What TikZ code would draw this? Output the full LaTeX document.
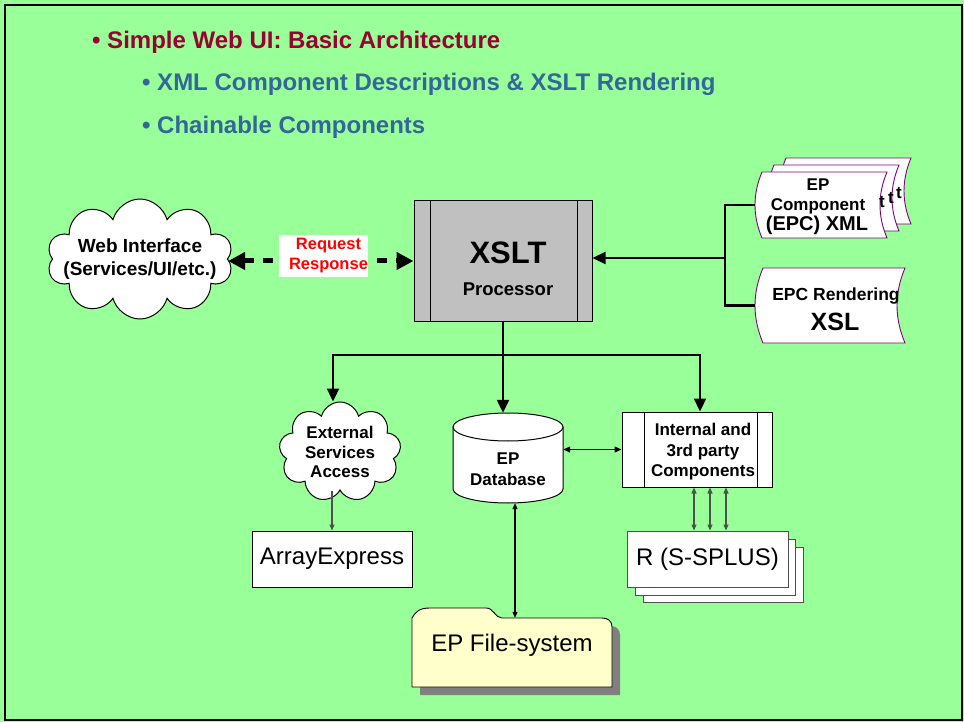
\documentclass[tikz,border=0pt]{standalone}
\usepackage{fontspec}
\setmainfont{Liberation Sans}
\usetikzlibrary{shapes.symbols,arrows.meta,calc}
\definecolor{bggreen}{RGB}{153,255,153}
\definecolor{titlered}{RGB}{153,0,51}
\definecolor{subblue}{RGB}{51,102,153}
\definecolor{procgray}{RGB}{192,192,192}
\definecolor{docpurple}{RGB}{128,0,128}
\definecolor{folderfill}{RGB}{255,255,204}
\definecolor{shadowgray}{RGB}{128,128,128}
\definecolor{thinline}{RGB}{80,80,80}
\newcommand\fsz[2]{\fontsize{#1pt}{#2pt}\selectfont}
% stored-data shape: left bulge x, top y, width, height, bulge c
\newcommand\storeddata[5]{%
  \filldraw[docline] ({#1+#5},#2) -- ({#1+#3},#2)
    .. controls ({#1+#3-4/3*#5},{#2+#4/3}) and ({#1+#3-4/3*#5},{#2+2*#4/3}) .. ({#1+#3},{#2+#4})
    -- ({#1+#5},{#2+#4})
    .. controls ({#1-#5/3},{#2+2*#4/3}) and ({#1-#5/3},{#2+#4/3}) .. cycle;}
\newcommand\folderpath[2]{%
  (#1+412,#2+687) -- (#1+412,#2+618)
  .. controls (#1+416,#2+611) and (#1+420,#2+608) .. (#1+430,#2+608)
  -- (#1+486,#2+608)
  .. controls (#1+494,#2+608) and (#1+495,#2+618) .. (#1+502,#2+618)
  -- (#1+602,#2+618)
  .. controls (#1+608,#2+618) and (#1+612,#2+621) .. (#1+612,#2+627)
  -- (#1+612,#2+687) -- cycle}
\tikzset{
  docline/.style={draw=docpurple, fill=white, line width=0.9pt},
  boxline/.style={draw=black, line width=1pt},
  mainarrow/.style={line width=2.3pt, -{Triangle[length=13pt,width=12pt]}},
  thinarrow/.style={draw=thinline, line width=1.1pt, -{Triangle[length=6pt,width=5pt]}},
  thinboth/.style={draw=thinline, line width=1.1pt, {Triangle[length=6pt,width=5pt]}-{Triangle[length=6pt,width=5pt]}},
  blackboth/.style={line width=1.3pt, {Triangle[length=7pt,width=6pt]}-{Triangle[length=7pt,width=6pt]}},
  ghost/.style={draw=none, fill=none, inner sep=0pt},
  cloudnode/.style={cloud, cloud ignores aspect, draw=black, fill=white, line width=1pt, inner sep=0pt}
}
\begin{document}
\begin{tikzpicture}[x=1pt,y=-1pt]
\useasboundingbox (0,0) rectangle (964,722);
\fill[bggreen] (0,0) rectangle (964,722);
\draw[line width=2pt] (5,5) rectangle (962,720);

% title
\node[anchor=base west, inner sep=0pt, text=titlered, font=\bfseries\fsz{24}{28}] (t1) at (92,48.5) {• Simple Web UI: Basic Architecture};
\node[anchor=base west, inner sep=0pt, text=subblue, font=\bfseries\fsz{24}{28}] (t2) at (142,90.5) {• XML Component Descriptions \& XSLT Rendering};
\node[anchor=base west, inner sep=0pt, text=subblue, font=\bfseries\fsz{24}{28}] (t3) at (142,133.5) {• Chainable Components};

% XSLT processor
\node[boxline, fill=procgray, minimum width=178pt, minimum height=120pt] (xslt) at (503,261) {};
\draw[line width=0.8pt] (430,201) -- (430,321) (577,201) -- (577,321);
\node[font=\bfseries\fsz{31}{34}] (xsltlabel) at (508,253) {XSLT};
\node[font=\bfseries\fsz{18.5}{22}] (proclabel) at (508,289) {Processor};

% Web interface cloud
\node[cloudnode, cloud puffs=10, minimum width=186pt, minimum height=120pt] (web) at (140,259) {};
\node[align=center, font=\bfseries\fsz{19}{23}] (webtxt) at (140,259) {Web Interface\\(Services/UI/etc.)};

% request/response
\draw[line width=5pt, dash pattern=on 10pt off 9pt, {Triangle[length=17pt,width=17pt]}-{Triangle[length=17pt,width=17pt]}] (web.east |- xslt.west) -- (xslt.west);
\node[fill=white, text=red, minimum width=83pt, minimum height=42pt, inner sep=0pt, align=center, font=\bfseries\fsz{16.5}{20}] (rr) at (323.5,256) {\hspace*{10pt}Request\\\hspace*{10pt}Response};

% documents
\storeddata{779}{158}{132}{66}{7}
\storeddata{767}{165}{132}{66}{7}
\node[font=\bfseries\fsz{17}{20}] (tb) at (899,193) {t};
\node[font=\bfseries\fsz{17}{20}] (tm) at (891,198) {t};
\storeddata{755}{172}{132}{66}{7}
\node[ghost, minimum width=132pt, minimum height=66pt] (xml) at (821,205) {};
\node[align=center, font=\bfseries\fsz{17}{20}] (xmltxt) at (818,196) {EP\\Component};
\node[font=\bfseries\fsz{20}{22}] (xmltxt2) at (817,225) {(EPC) XML};
\node[font=\bfseries\fsz{17}{20}] (tf) at (882,202) {t};

\storeddata{755}{268}{150}{75}{8}
\node[ghost, minimum width=150pt, minimum height=75pt] (xsl) at (830,305.5) {};
\node[font=\bfseries\fsz{17.5}{20}] (xsltxt) at (836,296) {EPC Rendering};
\node[font=\bfseries\fsz{25}{26}] (xsltxt2) at (835,322) {XSL};

\coordinate (bus) at (725,258);
\draw[line width=2.3pt] (xml.west) -| (bus);
\draw[line width=2.3pt] (xsl.west) -| (bus);
\draw[mainarrow] (bus) -- (xslt.east |- bus);

% lower nodes
\node[cloudnode, cloud puffs=9, minimum width=122pt, minimum height=100pt] (ext) at (340,452) {};
\node[align=center, font=\bfseries\fsz{17}{19.5}] (exttxt) at (340,452) {External\\Services\\Access};

\node[ghost, minimum width=110pt, minimum height=90pt] (db) at (508,458) {};
\filldraw[boxline, fill=white] (453,427) -- (453,489)
  .. controls (453,496.7) and (477.6,503) .. (508,503)
  .. controls (538.4,503) and (563,496.7) .. (563,489) -- (563,427) -- cycle;
\filldraw[boxline, fill=white] (508,427) ellipse [x radius=55pt, y radius=14pt];
\node[align=center, font=\bfseries\fsz{17}{21}] (dbtxt) at (508,469) {EP\\Database};

\node[boxline, fill=white, minimum width=150pt, minimum height=75pt] (comp) at (697,449.5) {};
\draw[line width=0.8pt] (644,412) -- (644,487) (757,412) -- (757,487);
\node[align=center, font=\bfseries\fsz{17}{20.5}] (comptxt) at (703,452) {Internal and\\3rd party\\Components};

% upper connectors
\coordinate (hub) at (503,355);
\draw[mainarrow] (xslt.south) -- (xslt.south |- db.north);
\draw[mainarrow] (hub) -| ([xshift=-7pt]ext.north);
\draw[mainarrow] (hub) -| ([xshift=3pt]comp.north);
\draw[blackboth] (db.east |- comp.west) -- (comp.west);

% ArrayExpress
\node[boxline, fill=white, minimum width=160pt, minimum height=56pt, font=\fsz{24}{28}] (ax) at (332,559) {ArrayExpress};
\draw[thinarrow] (ax.north |- ext.south) -- (ax.north);

% R (S-SPLUS)
\draw[boxline, draw=thinline, fill=white] (643,547) rectangle (803,602);
\draw[boxline, draw=thinline, fill=white] (635,539) rectangle (795,595);
\node[boxline, draw=thinline, fill=white, minimum width=161pt, minimum height=56pt, font=\fsz{24}{28}] (r) at (707.5,559) {R (S-SPLUS)};
\draw[thinboth] ($(comp.south)+(-3,0)$) -- ($(r.north)+(-13.5,0)$);
\draw[thinboth] ($(comp.south)+(13,0)$) -- ($(r.north)+(2.5,0)$);
\draw[thinboth] ($(comp.south)+(29,0)$) -- ($(r.north)+(18.5,0)$);

% EP File-system
\fill[shadowgray] \folderpath{8}{8};
\filldraw[draw=black, line width=0.9pt, fill=folderfill] \folderpath{0}{0};
\node[ghost, minimum width=200pt, minimum height=69pt] (fs) at (512,652.5) {};
\node[font=\fsz{24}{28}] (fstxt) at (512,645) {EP File-system};
\draw[thinboth, draw=black] ($(db.south)+(7,0)$) -- ($(fs.north)+(3,0)$);
\end{tikzpicture}
\end{document}
